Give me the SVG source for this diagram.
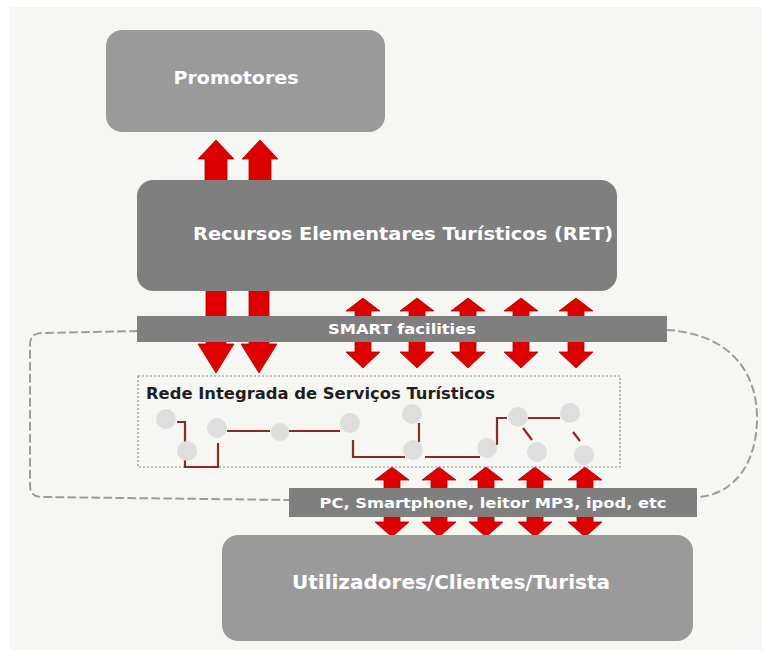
<svg xmlns="http://www.w3.org/2000/svg" width="771" height="659" viewBox="0 0 771 659">
  <style>
    .box-light { fill: #9a9a9a; }
    .box-dark { fill: #7f7f7f; }
    .label { font-family: "DejaVu Sans", Verdana, sans-serif; font-weight: bold; fill: #ffffff; text-anchor: middle; }
    .arrow { fill: #dc0000; stroke: #b00000; stroke-width: 0.8; }
    .loop { fill: none; stroke: #9c9c9c; stroke-width: 2; stroke-dasharray: 7 5; stroke-linecap: round; }
    .net-line { fill: none; stroke: #8a2a2a; stroke-width: 2.2; }
    .net-node { fill: #dedede; }
  </style>

  <!-- page background -->
  <rect x="0" y="0" width="771" height="659" fill="#ffffff"/>
  <rect x="10" y="7" width="752" height="643" fill="#f6f7f2"/>

  <!-- connectors: arrows and the dashed loop -->
  <g id="connectors">
    <path class="loop" d="M137 331 L42 333 Q30 333 30 345 L30 485 Q30 497 42 497 L290 500"/>
    <path class="loop" d="M667 330 C730 334 757 372 757 418 C757 462 735 495 697 497"/>

    <!-- RET to Promotores -->
    <polygon class="arrow" points="216,140 234,159 227,159 227,184 205,184 205,159 198,159"/>
    <polygon class="arrow" points="260,140 278,159 271,159 271,184 249,184 249,159 242,159"/>

    <!-- RET down through SMART facilities -->
    <polygon class="arrow" points="206,289 226,289 226,344 234,344 216,373 198,344 206,344"/>
    <polygon class="arrow" points="249,289 269,289 269,344 277,344 259,373 241,344 249,344"/>

    <!-- SMART facilities two-way arrows -->
    <g id="smart-arrows">
      <polygon class="arrow" points="363,298 380,311 371,311 371,352 380,352 363,368 346,352 355,352 355,311 346,311"/>
      <polygon class="arrow" points="417,298 434,311 425,311 425,352 434,352 417,368 400,352 409,352 409,311 400,311"/>
      <polygon class="arrow" points="468,298 485,311 476,311 476,352 485,352 468,368 451,352 460,352 460,311 451,311"/>
      <polygon class="arrow" points="521,298 538,311 529,311 529,352 538,352 521,368 504,352 513,352 513,311 504,311"/>
      <polygon class="arrow" points="576,298 593,311 584,311 584,352 593,352 576,368 559,352 568,352 568,311 559,311"/>
    </g>

    <!-- device two-way arrows -->
    <g id="device-arrows">
      <polygon class="arrow" points="392,467 409,480 400,480 400,522 409,522 392,537 375,522 384,522 384,480 375,480"/>
      <polygon class="arrow" points="439,467 456,480 447,480 447,522 456,522 439,537 422,522 431,522 431,480 422,480"/>
      <polygon class="arrow" points="486,467 503,480 494,480 494,522 503,522 486,537 469,522 478,522 478,480 469,480"/>
      <polygon class="arrow" points="535,467 552,480 543,480 543,522 552,522 535,537 518,522 527,522 527,480 518,480"/>
      <polygon class="arrow" points="585,467 602,480 593,480 593,522 602,522 585,537 568,522 577,522 577,480 568,480"/>
    </g>
  </g>

  <g id="promotores">
    <rect class="box-light" x="106" y="30" width="279" height="102" rx="16"/>
    <text class="label" x="236" y="84" font-size="18" textLength="125" lengthAdjust="spacingAndGlyphs">Promotores</text>
  </g>

  <g id="ret">
    <rect class="box-dark" x="137" y="180" width="480" height="111" rx="16"/>
    <text class="label" x="403" y="240" font-size="18" textLength="420" lengthAdjust="spacingAndGlyphs">Recursos Elementares Turísticos (RET)</text>
  </g>

  <g id="smart-facilities">
    <rect class="box-dark" x="137" y="316" width="530" height="26"/>
    <text class="label" x="402" y="334" font-size="14" textLength="148" lengthAdjust="spacingAndGlyphs">SMART facilities</text>
  </g>

  <g id="rede-integrada">
    <rect x="138" y="376" width="482" height="91" fill="none" stroke="#8a8a8a" stroke-width="1.2" stroke-dasharray="2 2"/>
    <text x="146" y="399" font-family="DejaVu Sans, Verdana, sans-serif" font-weight="bold" font-size="15" fill="#1e1e1e" textLength="349" lengthAdjust="spacingAndGlyphs">Rede Integrada de Serviços Turísticos</text>
    <!-- service links -->
    <path class="net-line" d="M177 422 L185 422 L185 467 L218 467 L218 443"/>
    <path class="net-line" d="M227 431 L270 431 M289 431 L340 431"/>
    <path class="net-line" d="M353 440 L353 457 L405 457 M425 457 L480 457"/>
    <path class="net-line" d="M419 423 L419 442"/>
    <path class="net-line" d="M497 445 L497 418 L507 418 M528 418 L560 418"/>
    <path class="net-line" d="M523 428 L532 440 M573 432 L580 441"/>
    <!-- service points -->
    <circle class="net-node" cx="166" cy="419" r="10"/>
    <circle class="net-node" cx="187" cy="451" r="10"/>
    <circle class="net-node" cx="217" cy="428" r="10"/>
    <circle class="net-node" cx="280" cy="432" r="9"/>
    <circle class="net-node" cx="350" cy="423" r="10"/>
    <circle class="net-node" cx="412" cy="414" r="10"/>
    <circle class="net-node" cx="413" cy="450" r="10"/>
    <circle class="net-node" cx="487" cy="448" r="10"/>
    <circle class="net-node" cx="518" cy="417" r="10"/>
    <circle class="net-node" cx="537" cy="452" r="10"/>
    <circle class="net-node" cx="570" cy="413" r="10"/>
    <circle class="net-node" cx="584" cy="455" r="10"/>
  </g>

  <g id="dispositivos">
    <rect class="box-dark" x="289" y="488" width="408" height="29"/>
    <text class="label" x="493" y="508" font-size="14" textLength="347" lengthAdjust="spacingAndGlyphs">PC, Smartphone, leitor MP3, ipod, etc</text>
  </g>

  <g id="utilizadores">
    <rect class="box-light" x="222" y="535" width="471" height="106" rx="16"/>
    <text class="label" x="451" y="589" font-size="20" textLength="318" lengthAdjust="spacingAndGlyphs">Utilizadores/Clientes/Turista</text>
  </g>
</svg>
